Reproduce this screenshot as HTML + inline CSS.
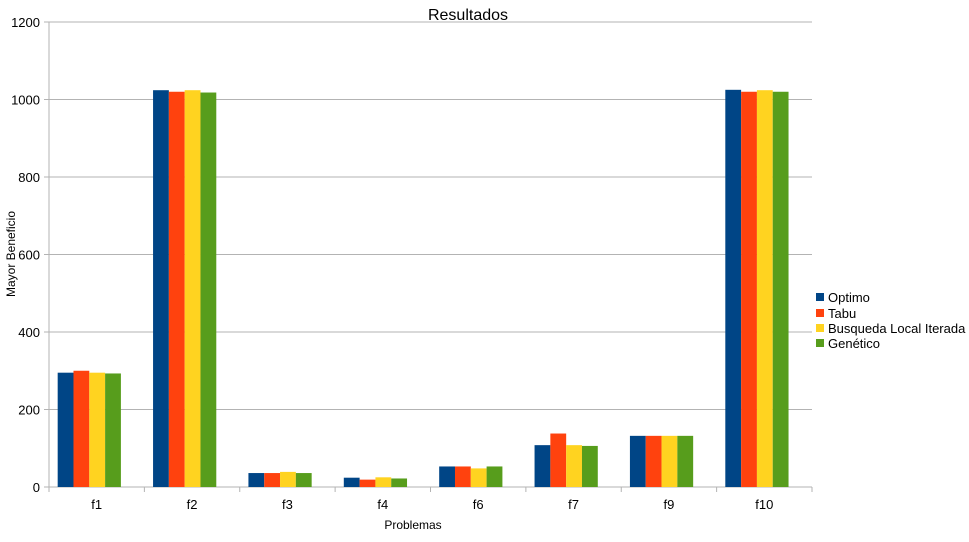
<!DOCTYPE html>
<html><head><meta charset="utf-8"><style>
body{margin:0;background:#fff;font-family:"Liberation Sans",sans-serif;}
svg text{font-family:"Liberation Sans",sans-serif;}
</style></head><body>
<svg id="chart" width="969" height="537" xmlns="http://www.w3.org/2000/svg">
<text x="468" y="20" font-size="16" text-anchor="middle">Resultados</text>
<text transform="translate(15,254) rotate(-90)" font-size="12" text-anchor="middle">Mayor Beneficio</text>
<text x="413" y="529" font-size="12" text-anchor="middle">Problemas</text>
<g id="grid"></g><g id="bars"></g><g id="axes"></g>
<g font-size="13">
<rect x="816" y="293" width="8" height="8" fill="#004586"/><text x="828" y="302">Optimo</text>
<rect x="816" y="309" width="8" height="8" fill="#ff420e"/><text x="828" y="318">Tabu</text>
<rect x="816" y="324" width="8" height="8" fill="#ffd320"/><text x="828" y="333">Busqueda Local Iterada</text>
<rect x="816" y="339" width="8" height="8" fill="#579d1c"/><text x="828" y="348">Genético</text>
</g>
</svg>
<script>
const categories=["f1","f2","f3","f4","f6","f7","f9","f10"];
const optimo=[295,1024,36,24,53,108,132,1025];
const tabu=[300,1020,36,19,53,138,132,1020];
const busqueda=[295,1024,39,25,48,108,132,1024];
const genetico=[293,1018,36,22,53,106,132,1020];
const yTicks=[0,200,400,600,800,1000,1200];
const seriesNames=["Optimo","Tabu","Busqueda Local Iterada","Genético"];
const ns="http://www.w3.org/2000/svg";
const X0=49,X1=812,Y0=487,Y1=22,YMAX=1200;
const y=v=>Y0-(v/YMAX)*(Y0-Y1);
const cw=(X1-X0)/categories.length;
const colors=["#004586","#ff420e","#ffd320","#579d1c"];
const series=[optimo,tabu,busqueda,genetico];
function mk(t,a,p){const e=document.createElementNS(ns,t);for(const k in a)e.setAttribute(k,a[k]);p.appendChild(e);return e;}
const grid=document.getElementById('grid'),bars=document.getElementById('bars'),axes=document.getElementById('axes');
yTicks.forEach(t=>{
 const l=mk('line',{x1:X0-5,x2:X1,y1:y(t),y2:y(t),stroke:'#b3b3b3','stroke-width':1},grid);
 
 
 const tx=mk('text',{x:X0-9,y:y(t)+5,'font-size':13,'text-anchor':'end'},axes);tx.textContent=t;
 
 
});
mk('line',{x1:X0,x2:X0,y1:Y1,y2:Y0,stroke:'#b3b3b3'},axes);
categories.forEach((c,i)=>{
 const cx=X0+i*cw;
 mk('line',{x1:cx,x2:cx,y1:Y0,y2:Y0+5,stroke:'#b3b3b3'},axes);
 const tx=mk('text',{x:cx+cw/2,y:Y0+22,'font-size':13,'text-anchor':'middle'},axes);tx.textContent=c;
 
 
 const gw=cw*0.663,bw=gw/4,gs=cx+cw*0.091;
 series.forEach((s,j)=>{
  const r=mk('rect',{x:gs+j*bw,y:y(s[i]),width:bw,height:Y0-y(s[i]),fill:colors[j]},bars);
  
  
 });
});
mk('line',{x1:X1,x2:X1,y1:Y0,y2:Y0+5,stroke:'#b3b3b3'},axes);
</script>
</body></html>
